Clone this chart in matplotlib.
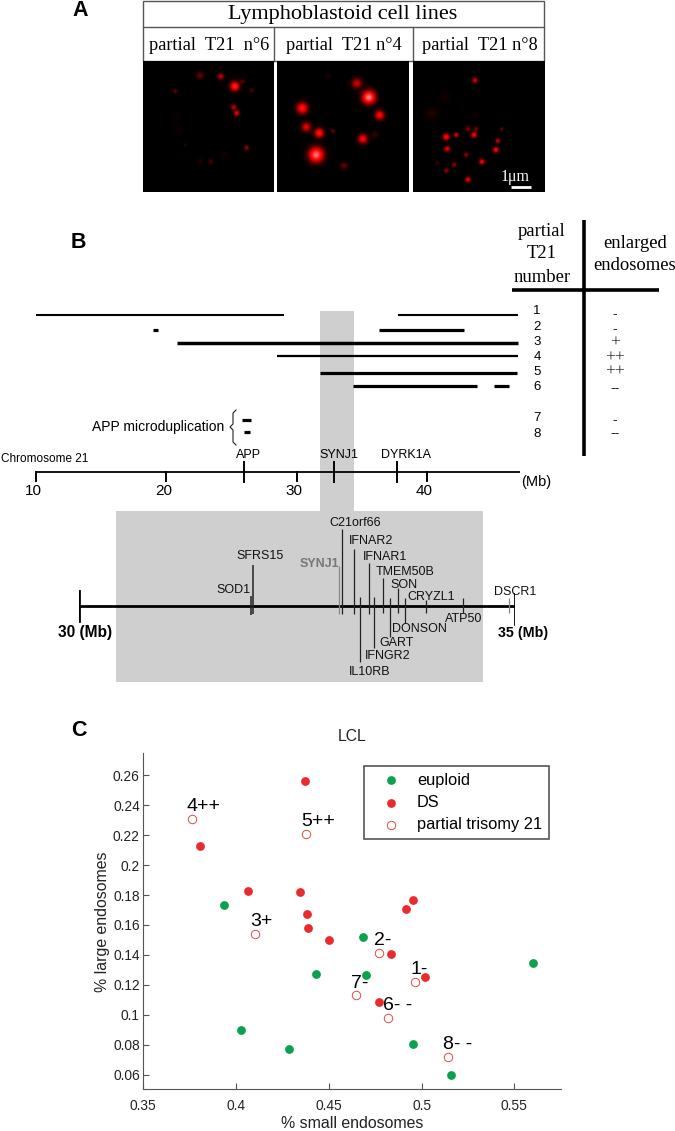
import numpy as np
import matplotlib
matplotlib.use('Agg')
import matplotlib.pyplot as plt
from matplotlib.patches import Rectangle

plt.rcParams['font.family'] = ['Liberation Sans', 'DejaVu Sans']
SERIF = ['Liberation Serif', 'DejaVu Serif']

W, H = 675, 1131

# panel A: spots (x px, y px, radius px, intensity)
titles_a = ['partial  T21  n°6', 'partial  T21 n°4', 'partial  T21 n°8']
boxes_a = [(143, 274), (277, 409), (413, 545)]
spots_6 = [(235, 86, 5, 1.1), (221, 76, 3.5, .6), (200, 75, 4, .3), (234, 107, 3, .6), (237, 113, 3, .8),
           (175, 91, 2.5, .3), (252, 90, 2.5, .25), (247, 148, 2.5, .5), (211, 162, 3, .2), (185, 145, 2, .12),
           (243, 81, 2.5, .3), (200, 162, 4, .08), (176, 115, 5, .05), (178, 130, 5, .05), (225, 155, 4, .06)]
spots_4 = [(369, 97, 7, 1.5), (357, 83, 5.5, .65), (302, 108, 6, 1.0), (380, 115, 5, .9), (306, 127, 5, .75),
           (319, 133, 5, 1.0), (316, 155, 8, 1.4), (363, 139, 5, .9), (344, 166, 4, .3), (333, 131, 2.5, .3),
           (375, 135, 4, .15), (328, 75, 3, .1)]
spots_8 = [(475, 80, 3, .7), (446, 137, 3.5, 1), (456, 135, 2.5, .8), (474, 135, 3, .9), (468, 129, 3, .4),
           (476, 129, 2.5, .4), (498, 141, 2.5, .7), (496, 150, 3, .9), (447, 149, 3, .8), (466, 155, 2.5, .5),
           (482, 162, 3, .85), (454, 165, 2.5, .5), (446, 171, 2.5, .5), (468, 180, 3, .8), (502, 129, 2, .35),
           (431, 113, 7, .1), (437, 163, 2, .2), (445, 98, 7, .05), (475, 115, 4, .07)]
spots_a = [spots_6, spots_4, spots_8]

# panel B: duplicated segments per partial T21 line (Mb)
row_numbers = ['1', '2', '3', '4', '5', '6', '7', '8']
row_y = [315, 330, 343, 356, 373, 386, 420, 432]
row_segments = [[(10.0, 29.0), (37.8, 47.0)], [(19.0, 19.4), (36.3, 42.8)], [(20.8, 47.0)], [(28.5, 47.0)],
                [(31.8, 46.9)], [(34.3, 43.8), (45.1, 46.3)], [(25.8, 26.5)], [(26.0, 26.4)]]
row_widths = [1.5, 2.3, 2.5, 1.6, 2.3, 2.3, 2.3, 2.3]
number_y = [311, 327, 342, 357, 372, 387, 418, 434]
enlarged = ['-', '-', '+', '++', '++', '--', '-', '--']
enlarged_y = [314, 329, 343, 358, 372, 388, 420, 433]
major_mb = [10, 20, 30, 40]
key_genes = ['APP', 'SYNJ1', 'DYRK1A']
key_mb = [26.0, 32.9, 37.7]
key_label_mb = [26.3, 33.25, 38.4]

# panel B zoom: gene, Mb position, line top, line bottom, label x, label y
gene_names = ['SOD1', 'SFRS15', 'SYNJ1', 'C21orf66', 'IFNAR2', 'IFNAR1', 'TMEM50B', 'SON', 'CRYZL1', 'DSCR1',
              'ATP50', 'DONSON', 'GART', 'IFNGR2', 'IL10RB']
gene_mb = [31.97, 32.0, 32.98, 33.02, 33.15, 33.32, 33.49, 33.66, 33.98, 34.93, 34.4, 33.74, 33.56, 33.38, 33.22]
gene_top = [596, 565, 566, 529, 549, 563, 578, 588, 600, 598, 598, 598, 598, 597, 597]
gene_bot = [615, 614, 614, 614, 614, 614, 613, 613, 613, 613, 613, 623, 637, 648, 662]
gene_lx = [233, 260, 319, 355, 371, 385, 405, 404, 431, 515, 464, 419, 397, 388, 370]
gene_ly = [590, 556, 564, 523, 541, 557, 572, 585, 597, 592, 619, 629, 643, 656, 672]

# panel C
euploid_x = [.3935, .4027, .4285, .4433, .4684, .4702, .4954, .5159, .5601]
euploid_y = [.1734, .0898, .0771, .1273, .1518, .1266, .0803, .0596, .1348]
ds_x = [.4372, .3807, .4064, .4345, .4382, .4388, .4501, .4952, .4916, .4833, .5020, .4770]
ds_y = [.2562, .2130, .1825, .1818, .1673, .1580, .1500, .1769, .1707, .1404, .1255, .1088]
partial_x = [.3764, .4377, .4104, .4772, .4966, .4645, .4821, .5144]
partial_y = [.2310, .2210, .1538, .1411, .1221, .1130, .0981, .0718]
partial_labels = ['4++', '5++', '3+', '2-', '1-', '7-', '6- -', '8- -']
label_x = [.3825, .4442, .4134, .4790, .4986, .4664, .4873, .5195]
label_y = [.2391, .2293, .1620, .1498, .1304, .1212, .1063, .0800]
xticks_c = [.35, .4, .45, .5, .55]
yticks_c = [.06, .08, .1, .12, .14, .16, .18, .2, .22, .24, .26]
ytick_labels = ['0.06', '0.08', '0.1', '0.12', '0.14', '0.16', '0.18', '0.2', '0.22', '0.24', '0.26']
xtick_labels = ['0.35', '0.4', '0.45', '0.5', '0.55']


def px_axes(x0, x1, xlim):
    # axes spanning the full height, y in image pixels, x on its own scale
    a = fig.add_axes([x0 / W, 0, (x1 - x0) / W, 1])
    a.set_xlim(*xlim)
    a.set_ylim(H, 0)
    a.axis('off')
    a.patch.set_alpha(0)
    return a


fig = plt.figure(figsize=(W / 100, H / 100), dpi=100)
ax = px_axes(0, W, (0, W))

# A
ax.text(80, 11, 'A', fontsize=15.5, fontweight='bold', ha='center', va='center')
ax.add_patch(Rectangle((143, 1), 401, 60, fill=False, ec='#555555', lw=1))
ax.plot([143, 544], [27, 27], color='#555555', lw=1)
ax.plot([274, 274], [27, 61], color='#555555', lw=1)
ax.plot([412.5, 412.5], [27, 61], color='#555555', lw=1)
ax.text(343, 14, 'Lymphoblastoid cell lines', family=SERIF, fontsize=16, ha='center', va='center')
for (x0, x1), t, spots in zip(boxes_a, titles_a, spots_a):
    ax.text((x0 + x1) / 2 + 1, 46, t, family=SERIF, fontsize=13.2, ha='center', va='center')
    xx, yy = np.meshgrid(np.arange(x0, x1 + 1), np.arange(61, 193))
    red = np.zeros(xx.shape)
    for sx, sy, r, v in spots:
        red += v * np.exp(-((xx - sx) ** 2 + (yy - sy) ** 2) / (2 * (r * .62) ** 2))
    img = np.dstack([np.clip(red * 1.3, 0, 1), np.clip((red - .9) * .9, 0, 1), np.clip((red - .9) * .9, 0, 1)])
    ax.imshow(img, extent=(x0, x1, 192, 61), aspect='auto', interpolation='bilinear', zorder=2)
ax.set_xlim(0, W)
ax.set_ylim(H, 0)
ax.plot([511, 531], [187, 187], color='white', lw=2, zorder=3, solid_capstyle='butt')
ax.text(515, 177, '1μm', family=SERIF, color='white', fontsize=11.5, ha='center', va='center', zorder=3)

# B, grey band + zoom rectangle
ax.add_patch(Rectangle((320, 311), 34, 200, fc='#cfcfcf', ec='none', zorder=0))
ax.add_patch(Rectangle((116, 511), 367, 171, fc='#cfcfcf', ec='none', zorder=0))
ax.text(78, 243, 'B', fontsize=15.5, fontweight='bold', ha='center', va='center')

ax_b = px_axes(35.7, 520.4, (10, 47.15))
for y, segs, lw in zip(row_y, row_segments, row_widths):
    for a, b in segs:
        ax_b.plot([a, b], [y, y], color='black', lw=lw, solid_capstyle='butt')
ax_b.plot([10, 47.15], [472, 472], color='black', lw=1.3, solid_capstyle='butt', clip_on=False)
for m in major_mb:
    ax_b.plot([m, m], [472, 481], color='black', lw=1.4, clip_on=False)
    ax_b.text(m - .2, 491, str(m), fontsize=11, ha='center', va='center')
for g, m, lm in zip(key_genes, key_mb, key_label_mb):
    ax_b.plot([m, m], [462, 482], color='black', lw=1.4)
    ax_b.text(lm, 455, g, fontsize=9, ha='center', va='center')
ax.text(1, 459, 'Chromosome 21', fontsize=8.5, ha='left', va='center')
ax.text(536, 482, '(Mb)', fontsize=10.5, ha='center', va='center')

# APP bracket
ax.text(158, 427, 'APP microduplication', fontsize=10, ha='center', va='center')
ax.plot([236, 233, 233, 230, 233, 233, 236], [410, 413, 424, 427, 430, 442, 445], color='#222222', lw=.8)

# table
ax.plot([584, 584], [220, 456], color='black', lw=2.6, solid_capstyle='butt')
ax.plot([512, 659], [290, 290], color='black', lw=2.6, solid_capstyle='butt')
for t, y in zip(['partial', 'T21', 'number'], [232, 254, 277]):
    ax.text(542, y, t, family=SERIF, fontsize=13.4, ha='center', va='center')
for t, y in zip(['enlarged', 'endosomes'], [243, 265]):
    ax.text(635, y, t, family=SERIF, fontsize=13.4, ha='center', va='center')
for n, y in zip(row_numbers, number_y):
    ax.text(537, y, n, fontsize=9.5, ha='center', va='center')
for e, y in zip(enlarged, enlarged_y):
    if '+' in e:
        ax.text(615, y, e, family=SERIF, fontsize=12.5, ha='center', va='center', color='#333333')
    else:
        ax.text(615, y, e, fontsize=10, ha='center', va='center', color='#222222')

# B zoom, 30-35 Mb
ax_z = px_axes(78.7, 515.3, (30, 35))
ax_z.plot([30, 35], [606, 606], color='black', lw=2, solid_capstyle='butt')
ax_z.plot([30, 30], [591, 621], color='black', lw=2)
ax_z.plot([35, 35], [594, 624], color='black', lw=2)
ax_z.text(30.07, 632, '30 (Mb)', fontsize=11.2, fontweight='bold', ha='center', va='center')
ax_z.text(35.09, 633, '35 (Mb)', fontsize=10.3, fontweight='bold', ha='center', va='center')
for g, m, t, b, lx, ly in zip(gene_names, gene_mb, gene_top, gene_bot, gene_lx, gene_ly):
    grey = g in ('SYNJ1', 'DSCR1')
    lw = 1.1 if g in ('SOD1', 'SFRS15') else .9
    ax_z.plot([m, m], [t, b], color='#888888' if grey else '#222222', lw=lw, solid_capstyle='butt')
    ax.text(lx, ly, g, fontsize=9, ha='center', va='center', zorder=5,
            color='#777777' if g == 'SYNJ1' else '#111111', fontweight='bold' if g == 'SYNJ1' else 'normal')

# C
ax.text(79, 731, 'C', fontsize=15.5, fontweight='bold', ha='center', va='center')
ax_c = fig.add_axes([143.3 / W, 1 - 1089.3 / H, (560.7 - 143.3) / W, (1089.3 - 753.3) / H])
ax_c.patch.set_alpha(0)
ax_c.scatter(euploid_x, euploid_y, s=40, c='#0aa24c', linewidths=0, label='euploid', zorder=3)
ax_c.scatter(ds_x, ds_y, s=40, c='#e92b2e', linewidths=0, label='DS', zorder=3)
ax_c.scatter(partial_x, partial_y, s=37, facecolors='white', edgecolors='#de4a45', linewidths=.7,
             label='partial trisomy 21', zorder=4)
for t, x, y in zip(partial_labels, label_x, label_y):
    ax_c.text(x, y, t, fontsize=14, ha='center', va='center', zorder=5)
ax_c.set_xlim(.35, .575)
ax_c.set_ylim(.0502, .2747)
ax_c.set_xticks(xticks_c)
ax_c.set_xticklabels(xtick_labels)
ax_c.set_yticks(yticks_c)
ax_c.set_yticklabels(ytick_labels)
ax_c.tick_params(axis='x', direction='in', labelsize=9.9, length=4, width=.8, color='#555555',
                 labelcolor='#222222', pad=7)
ax_c.tick_params(axis='y', direction='in', labelsize=9.9, length=4, width=.8, color='#555555',
                 labelcolor='#222222', pad=2.5)
ax_c.spines['top'].set_visible(False)
ax_c.spines['right'].set_visible(False)
ax_c.spines['left'].set_color('#555555')
ax_c.spines['bottom'].set_color('#555555')
ax_c.set_xlabel('% small endosomes', fontsize=11.4, color='#222222', labelpad=2.5)
ax_c.set_ylabel('% large endosomes', fontsize=11.4, color='#222222', labelpad=2)
ax_c.set_title('LCL', fontsize=11.3, color='#222222', pad=9)
leg = ax_c.legend(loc='upper left', bbox_to_anchor=((364 - 143.3) / 417.4, 1 - (765.7 - 753.3) / 336),
                  fontsize=11.8, frameon=True, fancybox=False, framealpha=1, edgecolor='#555555',
                  labelspacing=.45, handlelength=2.5, handletextpad=.3, borderaxespad=0, borderpad=.42,
                  scatterpoints=1)
leg.get_frame().set_linewidth(1.2)

fig.savefig('out.png', dpi=100)
